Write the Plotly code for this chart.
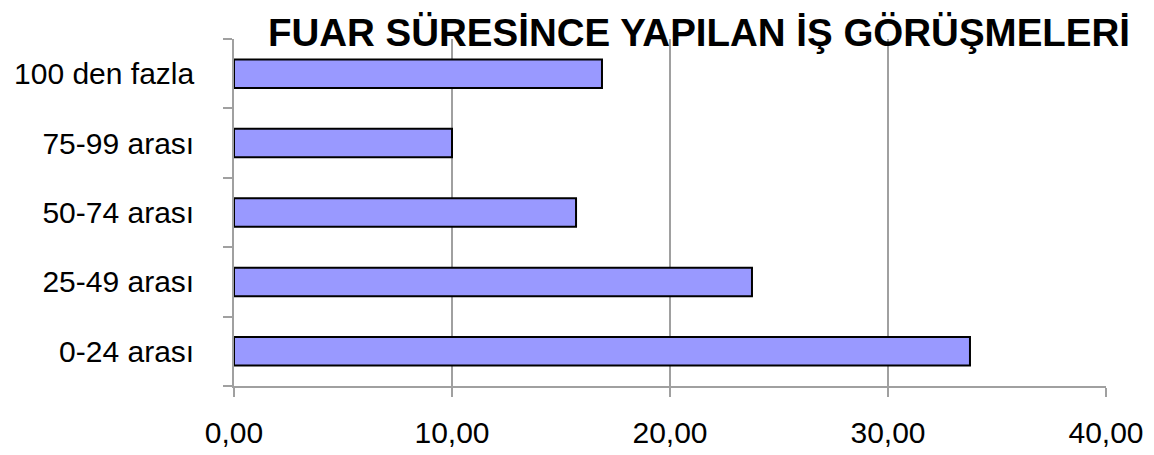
import plotly.graph_objects as go

categories = ["0-24 arası", "25-49 arası", "50-74 arası", "75-99 arası", "100 den fazla"]
values = [33.76, 23.76, 15.69, 10.00, 16.88]
x_ticks = [0, 10, 20, 30, 40]
x_tick_labels = ["0,00", "10,00", "20,00", "30,00", "40,00"]
title_text = "FUAR SÜRESİNCE YAPILAN İŞ GÖRÜŞMELERİ"

FONT = "Liberation Sans, Arial, sans-serif"
GRID = "#a0a0a0"

# page body has an 8px default margin; figure sized/margined to compensate
W, H = 1146, 447

fig = go.Figure(
    go.Bar(
        x=values,
        y=categories,
        orientation="h",
        marker=dict(color="#9999FF", line=dict(color="#000000", width=2)),
    )
)

fig.update_layout(
    width=W,
    height=H,
    margin=dict(l=226, r=48, t=31, b=69, autoexpand=False),
    paper_bgcolor="white",
    plot_bgcolor="white",
    bargap=0.59,
    showlegend=False,
    font=dict(family=FONT, size=30, color="black"),
    title=dict(
        text="<b>" + title_text + "</b>",
        font=dict(family=FONT, size=38.5, color="black"),
        x=691 / W,
        xanchor="center",
        xref="container",
        y=1 - 25 / H,
        yanchor="middle",
        yref="container",
        automargin=False,
    ),
)

fig.update_xaxes(
    range=[0, 40],
    tickvals=x_ticks,
    ticktext=x_tick_labels,
    automargin=False,
    showgrid=True,
    gridcolor=GRID,
    gridwidth=1.6,
    zeroline=False,
    showline=True,
    linecolor=GRID,
    linewidth=1.6,
    ticks="outside",
    ticklen=9,
    tickcolor=GRID,
    tickwidth=1.6,
    ticklabelstandoff=10,
    tickfont=dict(family=FONT, size=30, color="black"),
)

fig.update_yaxes(
    type="category",
    categoryorder="array",
    categoryarray=categories,
    range=[-0.5, 4.5],
    tickson="boundaries",
    automargin=False,
    showgrid=False,
    zeroline=False,
    showline=True,
    linecolor=GRID,
    linewidth=1.6,
    ticks="outside",
    ticklen=9,
    tickcolor=GRID,
    tickwidth=1.6,
    ticklabelstandoff=32,
    tickfont=dict(family=FONT, size=30, color="black"),
)

fig.write_html("out.html")
